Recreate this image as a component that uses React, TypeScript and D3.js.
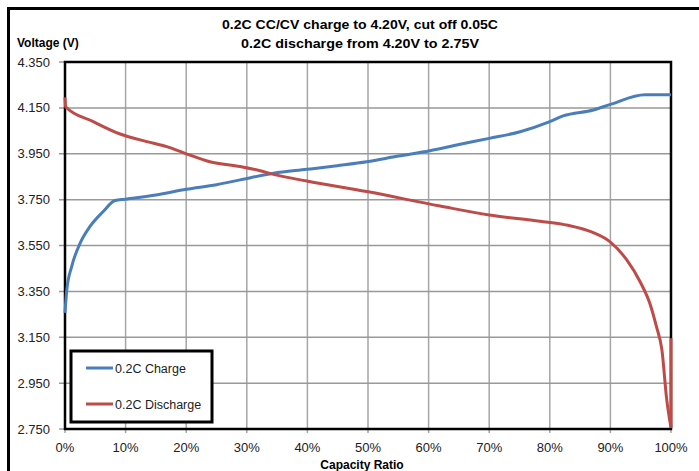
import * as d3 from "d3";

// capacity ratio (%) and voltage (V)
const chargePct = [0, 0.3, 1.1, 2.5, 4.1, 6.3, 8.25, 9.9, 15, 20, 25, 28.9, 34.4, 39.9, 44.9, 49.8, 55, 60.2, 65, 70, 75.1, 80, 82.2, 87.2, 90, 95.7, 100];
const chargeV = [3.256, 3.357, 3.458, 3.56, 3.632, 3.698, 3.746, 3.752, 3.77, 3.795, 3.815, 3.836, 3.865, 3.882, 3.898, 3.915, 3.94, 3.963, 3.99, 4.017, 4.046, 4.09, 4.115, 4.141, 4.165, 4.207, 4.207];

const dischargePct = [0, 0.1, 4.67, 9.1, 13.5, 16.8, 19.8, 23.9, 28.9, 32.2, 34.4, 39.9, 49.8, 61.9, 70, 78.4, 83, 87, 89.9, 92.7, 94.9, 96.5, 97.6, 98.5, 99.3, 100];
const dischargeV = [4.196, 4.155, 4.09, 4.036, 4.003, 3.981, 3.952, 3.915, 3.894, 3.876, 3.86, 3.831, 3.785, 3.722, 3.683, 3.656, 3.638, 3.608, 3.567, 3.487, 3.392, 3.298, 3.196, 3.095, 2.877, 2.755];
// rest voltage after cut-off, at 100%
const dischargeRecoveryV = 3.146;

const yTicks = [2.75, 2.95, 3.15, 3.35, 3.55, 3.75, 3.95, 4.15, 4.35];
const xTicks = [0, 10, 20, 30, 40, 50, 60, 70, 80, 90, 100];

const seriesNames = ["0.2C Charge", "0.2C Discharge"];
const seriesColors = ["#4a7ebb", "#be4b48"];
const titleLines = ["0.2C CC/CV charge to 4.20V, cut off 0.05C", "0.2C discharge from 4.20V to 2.75V"];

export default function App() {
    const width = 699;
    const height = 471;
    const plot = {left: 65, right: 671, top: 62, bottom: 429};

    const x = d3.scaleLinear().domain([0, 100]).range([plot.left, plot.right]);
    const y = d3.scaleLinear().domain([2.75, 4.35]).range([plot.bottom, plot.top]);

    const line = d3.line<[number, number]>()
        .x(d => x(d[0]))
        .y(d => y(d[1]))
        .curve(d3.curveMonotoneX);
    const lineLinear = d3.line<[number, number]>()
        .x(d => x(d[0]))
        .y(d => y(d[1]));

    const charge: [number, number][] = chargePct.map((p, i) => [p, chargeV[i]]);
    const discharge: [number, number][] = dischargePct.map((p, i) => [p, dischargeV[i]]);
    const lastPct = dischargePct[dischargePct.length - 1];
    const recovery: [number, number][] = [
        [lastPct, dischargeV[dischargeV.length - 1]],
        [lastPct, dischargeRecoveryV]
    ];

    const font = "Liberation Sans, Arial, sans-serif";

    return (
        <svg width={width} height={height}
             style={{position: "absolute", left: 0, top: 0, background: "#fff"}}
             fontFamily={font}>
            <rect x={0} y={0} width={width} height={height} fill="#fff"/>
            {/* outer frame */}
            <rect x={8.5} y={8.5} width={width + 10} height={height + 10} fill="none" stroke="#000" strokeWidth={3}/>

            {/* title */}
            {titleLines.map((t, i) => (
                <text key={t} x={360} y={29 + i * 19} textAnchor="middle" fontWeight="bold" fontSize={13}
                      textLength={i === 0 ? 276 : 238} lengthAdjust="spacingAndGlyphs" fill="#000">{t}</text>
            ))}
            <text x={17} y={47} fontWeight="bold" fontSize={12} fill="#000">Voltage (V)</text>

            {/* gridlines */}
            {xTicks.map(t => (
                <line key={"gx" + t} x1={x(t)} x2={x(t)} y1={plot.top} y2={plot.bottom + 4} stroke="#a6a6a6" strokeWidth={1.5}/>
            ))}
            {yTicks.map(t => (
                <line key={"gy" + t} x1={plot.left - 6} x2={plot.right} y1={y(t)} y2={y(t)} stroke="#999" strokeWidth={1.5}/>
            ))}

            {/* tick labels */}
            {yTicks.map(t => (
                <text key={"ty" + t} x={50} y={y(t) + 4.5} textAnchor="end" fontSize={13} fill="#222">{t.toFixed(3)}</text>
            ))}
            {xTicks.map(t => (
                <text key={"tx" + t} x={x(t)} y={452} textAnchor="middle" fontSize={13} fill="#222">{t + "%"}</text>
            ))}
            <text x={362} y={469} textAnchor="middle" fontWeight="bold" fontSize={12} fill="#000">Capacity Ratio</text>

            {/* plot border */}
            <rect x={plot.left} y={plot.top} width={plot.right - plot.left} height={plot.bottom - plot.top}
                  fill="none" stroke="#000" strokeWidth={2.5}/>

            {/* series */}
            <path d={line(charge) ?? ""} fill="none" stroke={seriesColors[0]} strokeWidth={3}/>
            <path d={line(discharge) ?? ""} fill="none" stroke={seriesColors[1]} strokeWidth={3}/>
            <path d={lineLinear(recovery) ?? ""} fill="none" stroke={seriesColors[1]} strokeWidth={3}/>

            {/* legend */}
            <rect x={71} y={351} width={141} height={71} fill="#fff" stroke="#000" strokeWidth={3}/>
            {seriesNames.map((n, i) => (
                <g key={n}>
                    <line x1={86} x2={113} y1={368 + i * 36} y2={368 + i * 36} stroke={seriesColors[i]} strokeWidth={3}/>
                    <text x={115} y={373 + i * 36} fontSize={12.5} fill="#222">{n}</text>
                </g>
            ))}
        </svg>
    );
}
